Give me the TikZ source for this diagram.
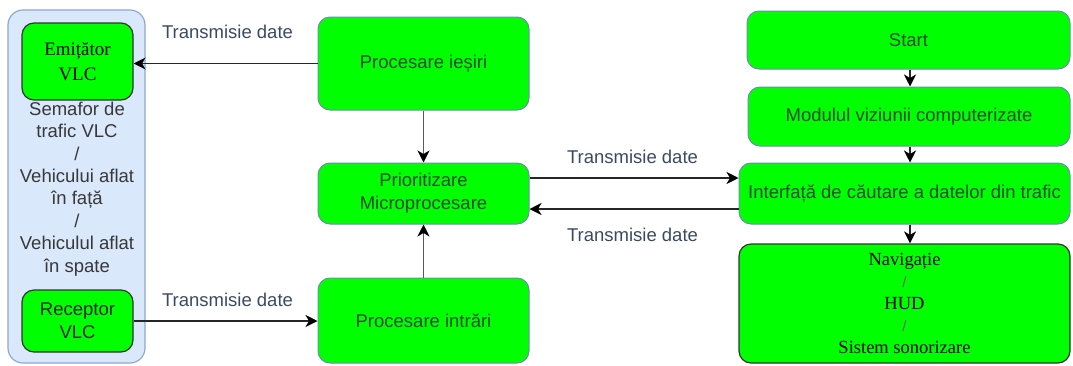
\documentclass[tikz,border=0pt]{standalone}
\usepackage{fontspec}
\setmainfont{Liberation Serif}
\setsansfont{Liberation Sans}
\usetikzlibrary{arrows.meta}
\definecolor{gfill}{HTML}{00FF00}
\definecolor{gborder}{HTML}{6F8CAF}
\definecolor{gtext}{HTML}{1E4A2C}
\definecolor{cfill}{HTML}{DAE8FC}
\definecolor{cborder}{HTML}{8EA9D0}
\definecolor{ltext}{HTML}{3A4A62}
\definecolor{ctext}{HTML}{383838}
\tikzset{
  gbox/.style={draw=gborder, fill=gfill, line width=1pt, rounded corners=12pt, inner sep=0pt,
    align=center, text=gtext, font=\sffamily\fontsize{18.5}{23}\selectfont},
  dbox/.style={gbox, draw=black!80, line width=1.2pt},
  arr/.style={draw=black!85, line width=1.4pt, -{Stealth[length=12pt,width=12pt,inset=3.5pt,color=black]}},
  garr/.style={arr, draw=black!65, line width=1.6pt},
  lbl/.style={text=ltext, font=\sffamily\fontsize{18.5}{22}\selectfont, inner sep=0pt},
}
\begin{document}
\begin{tikzpicture}[x=1pt,y=-1pt]
\useasboundingbox (0,0) rectangle (1073,365);
% container
\node[draw=cborder, fill=cfill, line width=1.2pt, rounded corners=15pt, minimum width=137pt, minimum height=353pt, inner sep=0pt] (cont) at (76.5,186.5) {};
\node[dbox, minimum width=111pt, minimum height=77pt, text=black, font=\rmfamily\fontsize{19}{25}\selectfont] (emit) at (77.5,61.5) {Emițător\\VLC};
\node[dbox, minimum width=111pt, minimum height=62pt, text=black!85] (rec) at (77.5,321) {Receptor\\VLC};
\node[align=center, text=ctext, font=\sffamily\fontsize{18.5}{22.4}\selectfont, inner sep=0pt] (ctxt) at (77,189)
  {Semafor de\\trafic VLC\\/\\Vehicului aflat\\în față\\/\\Vehiculul aflat\\în spate};
% middle column
\node[gbox, minimum width=211pt, minimum height=93pt] (pi) at (423.5,63.5) {Procesare ieșiri};
\node[gbox, minimum width=211pt, minimum height=61pt] (pm) at (423.5,193.5) {Prioritizare\\Microprocesare};
\node[gbox, minimum width=211pt, minimum height=85pt] (pin) at (423.5,320.5) {Procesare intrări};
% right column
\node[gbox, minimum width=323pt, minimum height=58pt] (start) at (908.5,40) {Start};
\node[gbox, minimum width=322pt, minimum height=59pt] (mod) at (909,116.5) {Modulul viziunii computerizate};
\node[gbox, minimum width=331pt, minimum height=61pt] (intf) at (904.5,193.5) {Interfață de căutare a datelor din trafic};
\node[dbox, minimum width=331pt, minimum height=119pt, text=black, font=\rmfamily\fontsize{18.5}{22}\selectfont] (nav) at (904.5,303.5)
  {Navigație\\{\sffamily\fontsize{15}{12}\selectfont\color{black!60}/}\\HUD\\{\sffamily\fontsize{15}{12}\selectfont\color{black!60}/}\\Sistem sonorizare};
% labels
\node[lbl] (l1) at (227.5,32) {Transmisie date};
\node[lbl] (l2) at (227.5,300) {Transmisie date};
\node[lbl] (l3) at (632.5,157) {Transmisie date};
\node[lbl] (l4) at (632.5,235) {Transmisie date};
% helper coordinates
\coordinate (ax) at (910,0);
\coordinate (up) at (0,178);
\coordinate (lo) at (0,209);
% connectors
\draw[arr] (pi.west) -- (pi.west -| emit.east);
\draw[arr] (rec.east) -- (rec.east -| pin.west);
\draw[garr] (pi.south) -- (pm.north);
\draw[garr] (pin.north) -- (pm.south);
\draw[arr] (pm.east |- up) -- (intf.west |- up);
\draw[arr] (intf.west |- lo) -- (pm.east |- lo);
\draw[arr] (start.south -| ax) -- (mod.north -| ax);
\draw[arr] (mod.south -| ax) -- (intf.north -| ax);
\draw[arr] (intf.south -| ax) -- (nav.north -| ax);
\end{tikzpicture}
\end{document}
